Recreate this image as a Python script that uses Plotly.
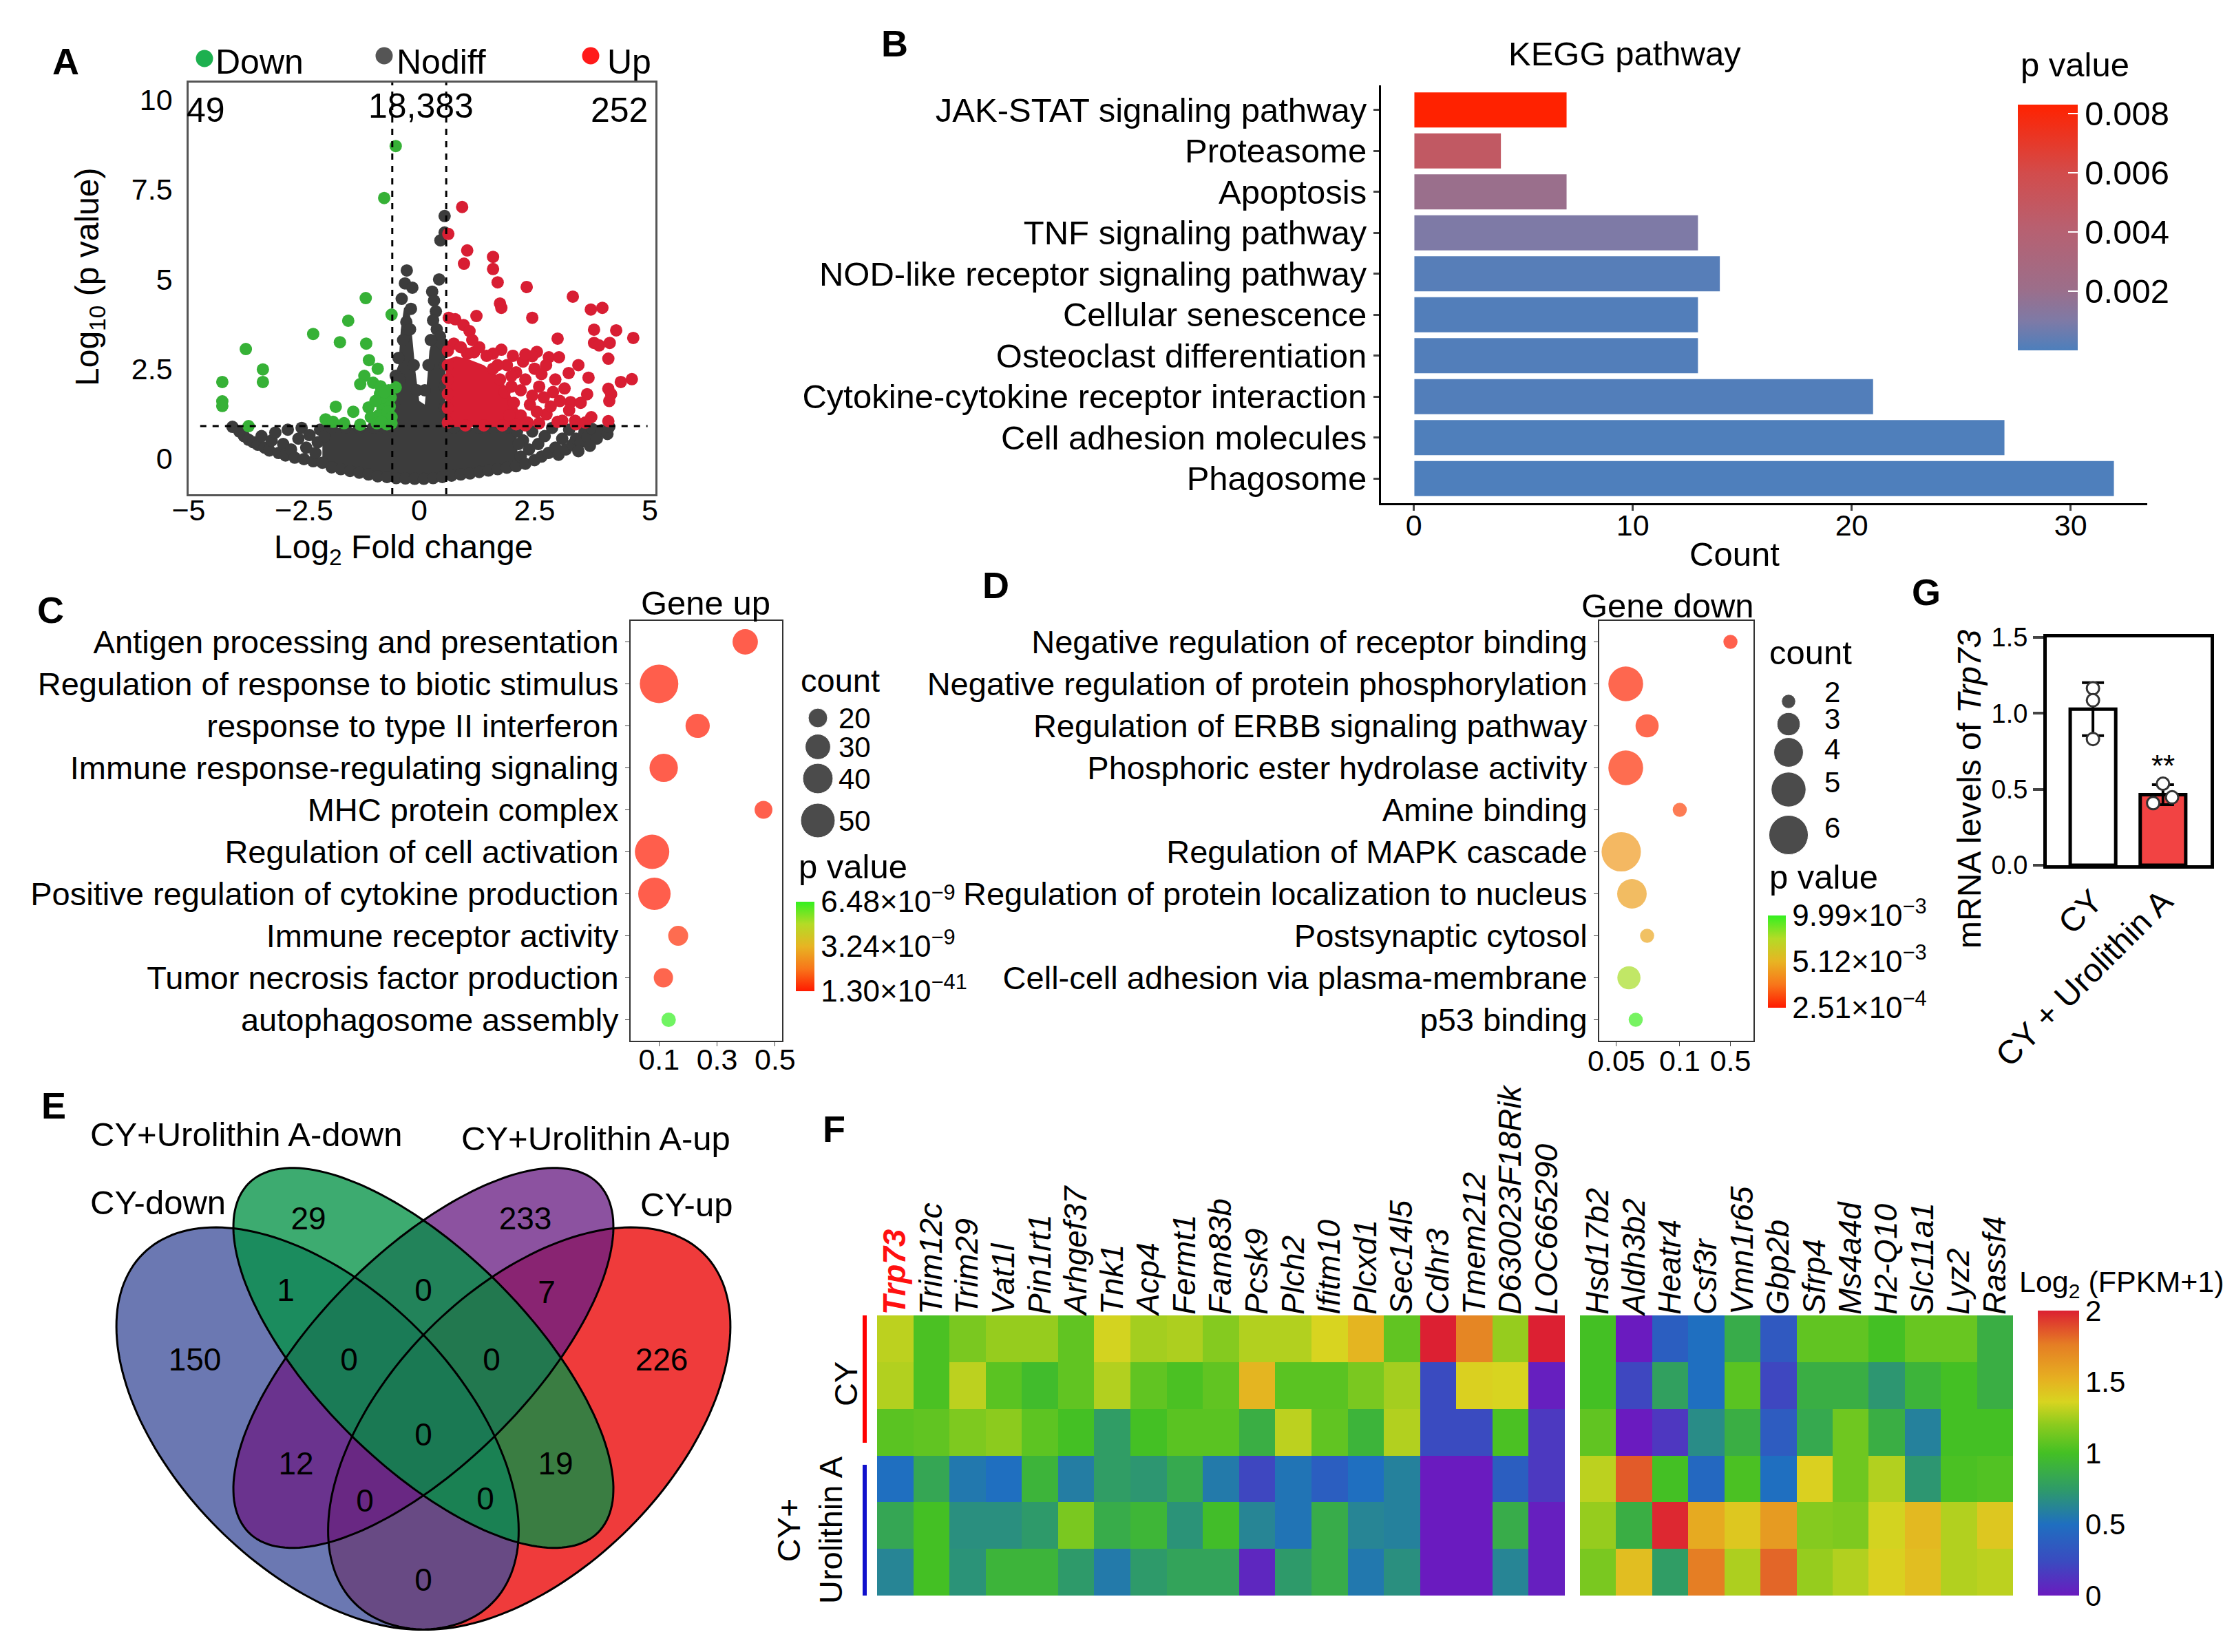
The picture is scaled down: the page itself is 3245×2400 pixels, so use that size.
import numpy as np
import plotly.graph_objects as go

W, H = 3245, 2400
FONT = "Liberation Sans, Arial, sans-serif"


def X(p):
    return p / W


def Y(p):
    return 1 - p / H


def dom_x(a, b):
    return [a / W, b / W]


def dom_y(top, bottom):
    return [1 - bottom / H, 1 - top / H]


# ======================= DATA =======================
# ---- A: volcano ----
volcano_labels = ["Down", "Nodiff", "Up"]
volcano_counts = [49, 18383, 252]
fc_cutoff = 0.585
logp_cutoff = 0.9

down_pts = [
    (-0.51, 8.71), (-0.76, 7.26), (-1.16, 4.47), (-0.60, 4.01), (-1.54, 3.84), (-2.30, 3.47), (-1.72, 3.24), (-1.15, 3.20),
    (-3.76, 3.05), (-3.39, 2.48), (-3.39, 2.13), (-4.27, 2.13), (-4.27, 1.59), (-4.27, 1.46), (-1.09, 2.74), (-0.90, 2.50),
    (-1.19, 2.30), (-1.28, 2.07), (-1.00, 2.11), (-0.84, 2.01), (-0.66, 1.90), (-0.51, 1.98), (-0.62, 1.70), (-0.70, 1.55),
    (-0.80, 1.40), (-0.66, 1.25), (-0.74, 1.10), (-0.60, 0.98), (-0.85, 1.80), (-0.72, 1.62), (-1.81, 1.44), (-1.43, 1.30),
    (-1.10, 1.42), (-2.03, 1.09), (-1.87, 1.02), (-1.63, 0.98), (-1.28, 0.94), (-3.70, 0.90), (-0.95, 1.60), (-0.78, 1.35),
    (-0.88, 1.20), (-0.64, 1.45), (-0.70, 0.95), (-1.05, 1.15), (-0.92, 0.98), (-0.68, 1.30), (-0.75, 1.85), (-0.60, 1.15),
    (-0.82, 1.02)]

up_pts = [
    (0.93, 7.01), (0.63, 6.26), (1.04, 5.80), (0.97, 5.43), (1.60, 5.62), (1.60, 5.28), (1.70, 4.91), (2.33, 4.78),
    (1.75, 4.32), (1.78, 4.20), (3.33, 4.51), (3.72, 4.15), (3.97, 4.20), (1.24, 3.97), (2.45, 3.92), (0.64, 3.92),
    (0.78, 3.88), (0.96, 3.72), (1.09, 3.55), (3.79, 3.59), (4.27, 3.57), (4.64, 3.36), (3.00, 3.34), (3.79, 3.22),
    (3.90, 3.15), (4.13, 3.22), (4.10, 2.78), (2.55, 2.97), (2.81, 2.82), (3.03, 2.82), (2.03, 2.86), (1.78, 3.03),
    (1.60, 2.92), (1.46, 2.86), (1.19, 2.96), (1.04, 2.92), (3.24, 2.38), (3.67, 2.25), (4.61, 2.21), (4.37, 2.13),
    (4.10, 1.94), (4.16, 1.79), (4.12, 1.60), (3.64, 1.79), (3.28, 1.57), (3.25, 1.34), (2.76, 1.23), (3.73, 1.15),
    (4.10, 1.04), (3.10, 1.05), (3.38, 1.05), (2.60, 0.98), (3.00, 1.02), (2.10, 2.40), (2.30, 2.20), (2.50, 2.50),
    (2.60, 2.00), (2.70, 1.70), (2.40, 1.50), (2.55, 1.30), (2.20, 1.90), (2.00, 2.30), (1.90, 2.60), (2.20, 1.20),
    (2.35, 1.00), (2.85, 1.45), (2.95, 2.20), (2.65, 2.35), (2.90, 1.85), (3.05, 1.60), (2.45, 1.75), (2.05, 1.55),
    (1.85, 1.85), (2.25, 2.70), (0.75, 3.20), (0.90, 3.10), (0.62, 3.00), (1.30, 3.10), (1.15, 3.30), (1.60, 2.50),
    (1.75, 2.20), (1.95, 1.20), (2.10, 0.95), (2.45, 2.85), (3.15, 1.95), (3.45, 2.60), (2.75, 2.60), (3.50, 1.55),
    (3.40, 0.95), (3.60, 1.00), (2.30, 2.90), (0.62, 2.60), (0.62, 2.20), (0.62, 1.80), (0.62, 1.40), (0.62, 1.00),
    (1.00, 0.92), (1.40, 0.92), (1.80, 0.92), (2.30, 0.92), (1.70, 2.60), (2.00, 2.00)]

up_core = [(0.58, 0.88), (0.58, 2.75), (0.80, 2.85), (1.10, 2.75), (1.40, 2.60), (1.65, 2.35), (1.85, 2.05),
           (2.00, 1.70), (2.15, 1.35), (2.30, 1.00), (2.35, 0.88)]

nodiff_core = [(-2.10, 0.85), (-0.58, 0.85), (-0.58, 2.20), (-0.45, 2.60), (-0.40, 3.60), (-0.33, 4.20), (-0.22, 4.30),
               (-0.15, 3.40), (-0.08, 2.40), (0.00, 1.60), (0.12, 1.50), (0.18, 2.30), (0.22, 3.00), (0.30, 3.40),
               (0.42, 3.60), (0.50, 3.30), (0.57, 3.10), (0.57, 0.85), (2.10, 0.85), (2.15, -0.23), (1.46, -0.35),
               (0.78, -0.46), (0.09, -0.56), (-0.60, -0.54), (-1.28, -0.38), (-1.95, -0.23), (-2.10, -0.15)]

nodiff_pts = [
    (-4.05, 0.88), (-3.90, 0.75), (-3.80, 0.62), (-3.70, 0.52), (-3.60, 0.45), (-3.50, 0.38), (-3.42, 0.62), (-3.35, 0.30),
    (-3.25, 0.22), (-3.20, 0.50), (-3.12, 0.72), (-3.05, 0.15), (-2.95, 0.40), (-2.90, 0.08), (-2.85, 0.80), (-2.78, 0.25),
    (-2.70, 0.02), (-2.62, 0.55), (-2.55, 0.85), (-2.50, -0.02), (-2.45, 0.30), (-2.38, 0.65), (-2.30, -0.08), (-2.25, 0.15),
    (-2.20, 0.45), (-2.15, 0.80), (-2.10, -0.12), (-2.05, 0.62),
    (-1.90, -0.25), (-1.70, -0.30), (-1.50, -0.35), (-1.30, -0.40), (-1.10, -0.45), (-0.90, -0.50), (-0.70, -0.52),
    (-0.50, -0.55), (-0.30, -0.56), (-0.10, -0.57), (0.10, -0.57), (0.30, -0.55), (0.50, -0.52), (0.70, -0.48),
    (0.90, -0.45), (1.10, -0.42), (1.30, -0.38), (1.50, -0.34), (1.70, -0.30), (1.90, -0.26), (2.10, -0.22),
    (2.20, 0.05), (2.25, 0.50), (2.30, -0.15), (2.38, 0.25), (2.45, 0.75), (2.50, -0.05), (2.58, 0.40), (2.65, 0.05),
    (2.72, 0.62), (2.80, 0.15), (2.88, 0.85), (2.95, 0.30), (3.02, 0.10), (3.10, 0.55), (3.18, 0.25), (3.25, 0.80),
    (3.32, 0.38), (3.40, 0.55), (3.50, 0.45), (3.58, 0.72), (3.65, 0.60), (3.75, 0.82), (3.85, 0.55), (3.95, 0.78),
    (4.08, 0.68), (4.12, 0.88), (3.70, 0.35), (3.45, 0.20), (2.15, 0.40), (2.12, 0.75),
    (-1.90, 0.85), (-1.60, 0.86), (-1.30, 0.85), (-1.00, 0.86), (-0.75, 0.85), (0.75, 0.86), (1.00, 0.85), (1.30, 0.86),
    (1.60, 0.85), (1.90, 0.86),
    (-0.27, 5.24), (-0.31, 4.88), (-0.15, 4.76), (-0.18, 4.17), (-0.28, 3.80), (-0.51, 2.30), (-0.38, 4.45), (-0.35, 3.30),
    (-0.45, 2.80), (-0.42, 2.20), (-0.20, 3.60), (-0.12, 2.60), (-0.05, 1.90), (0.55, 6.76), (0.55, 6.30), (0.46, 6.08),
    (0.43, 4.99), (0.28, 4.65), (0.32, 4.40), (0.36, 4.10), (0.30, 3.85), (0.38, 3.60), (0.45, 3.40), (0.25, 3.30),
    (0.50, 3.20), (0.20, 2.60), (0.12, 1.90), (0.55, 2.60), (0.55, 2.00), (0.55, 1.40), (-0.55, 1.50), (-0.55, 1.00)]

# ---- B: KEGG ----
kegg_terms = ["JAK-STAT signaling pathway", "Proteasome", "Apoptosis", "TNF signaling pathway",
              "NOD-like receptor signaling pathway", "Cellular senescence", "Osteoclast differentiation",
              "Cytokine-cytokine receptor interaction", "Cell adhesion molecules", "Phagosome"]
kegg_count = [7, 4, 7, 13, 14, 13, 13, 21, 27, 32]
kegg_p = [0.0083, 0.0048, 0.0020, 0.0010, 0.0002, 0.0001, 0.0001, 0.0001, 0.00005, 0.00002]
kegg_ticks = [0.002, 0.004, 0.006, 0.008]

# ---- C: GO up ----
go_up_terms = ["Antigen processing and presentation", "Regulation of response to biotic stimulus",
               "response to type II interferon", "Immune response-regulating signaling", "MHC protein complex",
               "Regulation of cell activation", "Positive regulation of cytokine production",
               "Immune receptor activity", "Tumor necrosis factor production", "autophagosome assembly"]
go_up_ratio = [0.397, 0.100, 0.233, 0.116, 0.460, 0.076, 0.084, 0.166, 0.115, 0.133]
go_up_count = [30, 61, 28, 36, 18, 50, 45, 21, 20, 14]
go_up_p = [1.2e-12, 1.3e-41, 2.5e-13, 3.0e-20, 4.1e-11, 5.6e-30, 8.2e-28, 3.3e-10, 2.0e-10, 6.48e-9]
go_up_legend_counts = [20, 30, 40, 50]
go_up_p_ticks = [1.30e-41, 3.24e-9, 6.48e-9]
go_up_p_ticktext = ["1.30×10<sup>−41</sup>", "3.24×10<sup>−9</sup>", "6.48×10<sup>−9</sup>"]

# ---- D: GO down ----
go_down_terms = ["Negative regulation of receptor binding", "Negative regulation of protein phosphorylation",
                 "Regulation of ERBB signaling pathway", "Phosphoric ester hydrolase activity", "Amine binding",
                 "Regulation of MAPK cascade", "Regulation of protein localization to nucleus",
                 "Postsynaptic cytosol", "Cell-cell adhesion via plasma-membrane", "p53 binding"]
go_down_ratio = [0.5, 0.054, 0.066, 0.054, 0.1, 0.052, 0.057, 0.066, 0.0555, 0.059]
go_down_count = [2, 5, 3, 5, 2, 6, 4, 2, 3, 2]
go_down_p = [3.0e-4, 6.0e-4, 6.5e-4, 8.0e-4, 1.4e-3, 4.1e-3, 4.3e-3, 4.6e-3, 7.8e-3, 9.8e-3]
go_down_ratio_ticks = [0.05, 0.1, 0.5]
go_down_legend_counts = [2, 3, 4, 5, 6]
go_down_p_ticks = [2.51e-4, 5.12e-3, 9.99e-3]
go_down_p_ticktext = ["2.51×10<sup>−4</sup>", "5.12×10<sup>−3</sup>", "9.99×10<sup>−3</sup>"]

# ---- E: Venn ----
venn_sets = ["CY-down", "CY+Urolithin A-down", "CY+Urolithin A-up", "CY-up"]
venn_counts = [29, 233, 1, 0, 7, 150, 0, 0, 226, 0, 12, 19, 0, 0, 0]

# ---- F: heatmap ----
genes_left = ["Trp73", "Trim12c", "Trim29", "Vat1l", "Pin1rt1", "Arhgef37", "Tnk1", "Acp4", "Fermt1", "Fam83b",
              "Pcsk9", "Plch2", "Ifitm10", "Plcxd1", "Sec14l5", "Cdhr3", "Tmem212", "D630023F18Rik", "LOC665290"]
genes_right = ["Hsd17b2", "Aldh3b2", "Heatr4", "Csf3r", "Vmn1r65", "Gbp2b", "Sfrp4", "Ms4a4d", "H2-Q10",
               "Slc11a1", "Lyz2", "Rassf4"]
samples = ["CY-1", "CY-2", "CY-3", "UA-1", "UA-2", "UA-3"]
expr_left = [
    [1.30, 1.02, 1.15, 1.22, 1.22, 1.08, 1.35, 1.25, 1.27, 1.18, 1.28, 1.28, 1.36, 1.50, 1.08, 2.00, 1.72, 1.22, 2.00],
    [1.28, 1.02, 1.30, 1.06, 0.97, 1.08, 1.28, 1.08, 1.02, 1.08, 1.50, 1.06, 1.06, 1.15, 1.25, 0.24, 1.38, 1.36, 0.02],
    [1.06, 1.08, 1.16, 1.20, 1.07, 1.00, 0.76, 1.00, 1.06, 1.06, 0.88, 1.30, 1.08, 0.92, 1.28, 0.24, 0.24, 1.02, 0.15],
    [0.50, 0.82, 0.55, 0.50, 0.92, 0.58, 0.76, 0.72, 0.84, 0.56, 0.22, 0.53, 0.38, 0.50, 0.60, 0.00, 0.00, 0.38, 0.15],
    [0.82, 1.00, 0.68, 0.68, 0.74, 1.15, 0.86, 0.93, 0.70, 0.98, 0.62, 0.53, 0.86, 0.62, 0.60, 0.00, 0.00, 0.86, 0.02],
    [0.62, 1.00, 0.70, 0.92, 0.92, 0.74, 0.56, 0.74, 0.80, 0.80, 0.06, 0.74, 0.86, 0.55, 0.68, 0.00, 0.00, 0.62, 0.02]]
expr_right = [
    [1.00, 0.00, 0.38, 0.50, 0.86, 0.34, 1.08, 1.08, 1.00, 1.10, 1.10, 0.88],
    [1.00, 0.22, 0.78, 0.50, 1.06, 0.22, 0.88, 0.88, 0.72, 0.92, 1.00, 0.88],
    [1.08, 0.00, 0.14, 0.66, 0.88, 0.36, 0.84, 1.12, 0.88, 0.60, 1.00, 1.00],
    [1.30, 1.85, 1.00, 0.45, 1.02, 0.50, 1.38, 1.12, 1.28, 0.72, 1.02, 1.04],
    [1.22, 0.88, 1.98, 1.55, 1.42, 1.62, 1.18, 1.16, 1.35, 1.48, 1.28, 1.42],
    [1.15, 1.46, 0.76, 1.76, 1.27, 1.82, 1.22, 1.28, 1.38, 1.46, 1.28, 1.30]]
heat_ticks = [0, 0.5, 1, 1.5, 2]

# ---- G: qPCR ----
qpcr_groups = ["CY", "CY + Urolithin A"]
qpcr_reps = [[1.165, 1.086, 0.831], [0.537, 0.409, 0.447]]
qpcr_sig = ["", "**"]

# ======================= STYLE / LAYOUT CONSTANTS =======================
GRAY, GREEN, RED = "#3C3C3C", "#36B136", "#D81E33"
dot_offsets = [[0, 0, 0], [0.0, -0.14, 0.13]]

kegg_scale = [[0, "#4D7FBC"], [0.12, "#7E7AA6"], [0.25, "#9C6E8A"], [0.5, "#B86070"], [0.72, "#D24C4C"],
              [1, "#FF2200"]]
go_scale = [[0, "#FF1A00"], [0.25, "#F8761A"], [0.5, "#E8B423"], [0.75, "#B4DB26"], [1, "#33F020"]]
heat_scale = [[0, "#6A1BBF"], [0.12, "#3A4BC0"], [0.25, "#1F6FC0"], [0.37, "#2E9A6A"], [0.5, "#44C024"],
              [0.6, "#8CCB1E"], [0.68, "#D8D420"], [0.76, "#E6B021"], [0.88, "#E57E24"], [1, "#DC2032"]]


def size_up(c):
    return np.sqrt(57.2 * np.asarray(c, float) - 360)


def size_down(c):
    return np.sqrt(710 * np.asarray(c, float) - 1000)


def recip(v):
    # reciprocal scale transform used by panel D's x axis
    return [-1.0 / t for t in v]


fig = go.Figure()

# ---------- A ----------
fig.add_trace(go.Scatter(x=[p[0] for p in nodiff_core], y=[p[1] for p in nodiff_core], mode="lines",
                         fill="toself", fillcolor=GRAY, line=dict(width=0), xaxis="x", yaxis="y", hoverinfo="skip"))
for pts, col in [(nodiff_pts, GRAY), (down_pts, GREEN)]:
    fig.add_trace(go.Scatter(x=[p[0] for p in pts], y=[p[1] for p in pts], mode="markers",
                             marker=dict(size=18, color=col, line=dict(width=0)), xaxis="x", yaxis="y"))
fig.add_trace(go.Scatter(x=[p[0] for p in up_core], y=[p[1] for p in up_core], mode="lines", fill="toself",
                         fillcolor=RED, line=dict(width=0), xaxis="x", yaxis="y", hoverinfo="skip"))
fig.add_trace(go.Scatter(x=[p[0] for p in up_pts], y=[p[1] for p in up_pts], mode="markers",
                         marker=dict(size=18, color=RED, line=dict(width=0)), xaxis="x", yaxis="y"))

# ---------- B ----------
fig.add_trace(go.Bar(x=kegg_count, y=kegg_terms, orientation="h", width=0.88,
                     marker=dict(color=kegg_p, coloraxis="coloraxis", line=dict(color="white", width=1.5)),
                     xaxis="x2", yaxis="y2"))

# ---------- C ----------
fig.add_trace(go.Scatter(x=go_up_ratio, y=go_up_terms, mode="markers",
                         marker=dict(size=size_up(go_up_count), sizemode="diameter", color=go_up_p,
                                     coloraxis="coloraxis2", line=dict(width=0)),
                         xaxis="x3", yaxis="y3"))
# ---------- D ----------
fig.add_trace(go.Scatter(x=recip(go_down_ratio), y=go_down_terms, mode="markers",
                         marker=dict(size=size_down(go_down_count), sizemode="diameter", color=go_down_p,
                                     coloraxis="coloraxis3", line=dict(width=0)),
                         xaxis="x4", yaxis="y4"))

# ---------- G ----------
means = [float(np.mean(r)) for r in qpcr_reps]
sds = [float(np.std(r, ddof=1)) for r in qpcr_reps]
fig.add_trace(go.Bar(x=[0, 1], y=means, width=0.65, marker=dict(color=["white", "#F24343"],
                     line=dict(color="black", width=5)),
                     error_y=dict(type="data", array=sds, visible=True, thickness=4, width=16, color="black"),
                     xaxis="x5", yaxis="y5"))
for gi, reps in enumerate(qpcr_reps):
    fig.add_trace(go.Scatter(x=[gi + o for o in dot_offsets[gi]], y=reps, mode="markers",
                             marker=dict(size=18, color="white", line=dict(color="#333333", width=3)),
                             xaxis="x5", yaxis="y5"))

# ---------- F ----------
fig.add_trace(go.Heatmap(z=expr_left, x=genes_left, y=list(range(len(samples))), coloraxis="coloraxis4",
                         xaxis="x6", yaxis="y6"))
fig.add_trace(go.Heatmap(z=expr_right, x=genes_right, y=list(range(len(samples))), coloraxis="coloraxis4",
                         xaxis="x7", yaxis="y7"))

# ---------- overlay (pixel coordinates) ----------
venn_pos = [(440, 1766), (755, 1766), (407, 1870), (607, 1870), (786, 1873), (275, 1971), (499, 1971),
            (706, 1971), (953, 1971), (607, 2080), (422, 2122), (799, 2122), (522, 2176), (697, 2173), (607, 2291)]
fig.add_trace(go.Scatter(x=[p[0] for p in venn_pos], y=[p[1] for p in venn_pos], mode="text",
                         text=[str(c) for c in venn_counts],
                         textfont=dict(size=46, family=FONT, color="black"), xaxis="x8", yaxis="y8"))
fig.add_trace(go.Scatter(x=[289, 550, 850], y=[77, 73, 73], mode="markers",
                         marker=dict(size=25, color=["#1DB04F", "#555555", "#FF1A1A"]), xaxis="x8", yaxis="y8"))
fig.add_trace(go.Scatter(x=[1180] * 4, y=[1035, 1077, 1123, 1184], mode="markers",
                         marker=dict(size=size_up(go_up_legend_counts), sizemode="diameter", color="black"),
                         xaxis="x8", yaxis="y8"))
fig.add_trace(go.Scatter(x=[2590] * 5, y=[1011, 1044, 1085, 1139, 1205], mode="markers",
                         marker=dict(size=size_down(go_down_legend_counts), sizemode="diameter", color="black"),
                         xaxis="x8", yaxis="y8"))


# ======================= AXES =======================
def tf(size, **kw):
    d = dict(size=size, family=FONT, color="black")
    d.update(kw)
    return d


base = dict(showgrid=False, zeroline=False, automargin=False)
layout_axes = dict(
    xaxis=dict(base, domain=dom_x(266, 944), range=[-5, 5.12], anchor="y", tickvals=[-5, -2.5, 0, 2.5, 5],
               showline=True, mirror=True, linecolor="#555", linewidth=2.5, ticks="", ticklabelstandoff=-16,
               tickfont=tf(43)),
    yaxis=dict(base, domain=dom_y(112, 710), range=[-1, 10.48], anchor="x", tickvals=[0, 2.5, 5, 7.5, 10],
               showline=True, mirror=True, linecolor="#555", linewidth=2.5, ticks="", ticklabelstandoff=12,
               tickfont=tf(43)),
    xaxis2=dict(base, domain=dom_x(1998, 3111), range=[-1.5, 33.5], anchor="y2", tickvals=[0, 10, 20, 30],
                ticks="outside", ticklen=8, tickwidth=3, showline=True, linecolor="black", linewidth=3,
                ticklabelstandoff=-16, tickfont=tf(43)),
    yaxis2=dict(base, domain=dom_y(116, 723), anchor="x2", type="category", categoryorder="array",
                categoryarray=kegg_terms[::-1], range=[-0.6, 9.6], tickmode="array", tickvals=kegg_terms,
                ticktext=kegg_terms, ticks="outside", ticklen=8, tickwidth=3,
                showline=True, linecolor="black", linewidth=3, tickfont=tf(49)),
    xaxis3=dict(base, domain=dom_x(908, 1128), range=[0.002, 0.524], anchor="y3", tickvals=[0.1, 0.3, 0.5],
                tickangle=0, ticks="outside", ticklen=6, showline=True, mirror=True, linecolor="#333",
                linewidth=2, ticklabelstandoff=-18, tickfont=tf(43)),
    yaxis3=dict(base, domain=dom_y(894, 1504), anchor="x3", type="category", categoryorder="array",
                categoryarray=go_up_terms[::-1], range=[-0.5, 9.5], tickmode="array", tickvals=go_up_terms,
                ticktext=go_up_terms, ticks="outside", ticklen=6,
                showline=True, mirror=True, linecolor="#333", linewidth=2, tickfont=tf(47)),
    xaxis4=dict(base, domain=dom_x(2315, 2539), range=[-22.7, 1.63], anchor="y4",
                tickvals=recip(go_down_ratio_ticks), ticktext=["%g" % t for t in go_down_ratio_ticks],
                tickangle=0, ticks="outside", ticklen=6, showline=True, mirror=True, linecolor="#333",
                linewidth=2, ticklabelstandoff=-16, tickfont=tf(43)),
    yaxis4=dict(base, domain=dom_y(894, 1504), anchor="x4", type="category", categoryorder="array",
                categoryarray=go_down_terms[::-1], range=[-0.5, 9.5], tickmode="array", tickvals=go_down_terms,
                ticktext=go_down_terms, ticks="outside", ticklen=6,
                showline=True, mirror=True, linecolor="#333", linewidth=2, tickfont=tf(47)),
    xaxis5=dict(base, domain=dom_x(2965, 3203), range=[-0.66, 1.68], anchor="y5", tickvals=[0, 1],
                ticktext=qpcr_groups, tickangle=-45, ticks="", showline=True, mirror=True, linecolor="black",
                linewidth=5, tickfont=tf(48)),
    yaxis5=dict(base, domain=dom_y(918, 1249), range=[0, 1.5], anchor="x5", tickvals=[0, 0.5, 1, 1.5],
                ticktext=["0.0", "0.5", "1.0", "1.5"], ticks="outside", ticklen=15, tickwidth=4,
                showline=True, mirror=True, linecolor="black", linewidth=5, tickfont=tf(38)),
    xaxis6=dict(base, domain=dom_x(1266, 2265), anchor="y6", side="top", tickangle=-90, ticks="",
                tickmode="array", tickvals=genes_left,
                ticktext=["<b><span style='color:#FF1010'>%s</span></b>" % g if g == "Trp73" else g
                          for g in genes_left],
                tickfont=tf(46, style="italic"), showline=False),
    yaxis6=dict(base, domain=dom_y(1903, 2310), anchor="x6", range=[5.5, -0.5], showticklabels=False,
                showline=False, ticks=""),
    xaxis7=dict(base, domain=dom_x(2287, 2916), anchor="y7", side="top", tickangle=-90, ticks="",
                tickmode="array", tickvals=genes_right, ticktext=genes_right, tickfont=tf(46, style="italic"),
                showline=False),
    yaxis7=dict(base, domain=dom_y(1903, 2310), anchor="x7", range=[5.5, -0.5], showticklabels=False,
                showline=False, ticks=""),
    xaxis8=dict(base, domain=[0, 1], range=[0, W], anchor="y8", visible=False),
    yaxis8=dict(base, domain=[0, 1], range=[H, 0], anchor="x8", visible=False),
)

# ======================= COLOR AXES =======================
coloraxes = dict(
    coloraxis=dict(colorscale=kegg_scale, cmin=0, cmax=0.0083,
                   colorbar=dict(x=X(2923), xanchor="left", y=Y(144), yanchor="top", len=(501 - 144) / H,
                                 lenmode="fraction", thickness=87, xpad=0, ypad=0, outlinewidth=0,
                                 tickvals=kegg_ticks, ticktext=["%.3f" % t for t in kegg_ticks],
                                 ticks="inside", ticklen=14, tickwidth=2, tickcolor="white", tickfont=tf(49))),
    coloraxis2=dict(colorscale=go_scale, cmin=0, cmax=6.48e-9,
                    colorbar=dict(x=X(1148), xanchor="left", y=Y(1302), yanchor="top", len=130 / H,
                                  lenmode="fraction", thickness=27, xpad=0, ypad=0, outlinewidth=0,
                                  tickvals=go_up_p_ticks, ticktext=go_up_p_ticktext, tickfont=tf(44))),
    coloraxis3=dict(colorscale=go_scale, cmin=2.51e-4, cmax=9.99e-3,
                    colorbar=dict(x=X(2560), xanchor="left", y=Y(1322), yanchor="top", len=134 / H,
                                  lenmode="fraction", thickness=26, xpad=0, ypad=0, outlinewidth=0,
                                  tickvals=go_down_p_ticks, ticktext=go_down_p_ticktext, tickfont=tf(44))),
    coloraxis4=dict(colorscale=heat_scale, cmin=0, cmax=2,
                    colorbar=dict(x=X(2952), xanchor="left", y=Y(1896), yanchor="top", len=414 / H,
                                  lenmode="fraction", thickness=60, xpad=0, ypad=0, outlinewidth=0,
                                  tickvals=heat_ticks, ticktext=["%g" % t for t in heat_ticks],
                                  tickfont=tf(42))),
)

# ======================= SHAPES =======================
shapes = []
for xv in (-fc_cutoff, fc_cutoff):
    shapes.append(dict(type="line", xref="x", yref="y", x0=xv, x1=xv, y0=-1, y1=10.48,
                       line=dict(color="black", width=3, dash="dash")))
shapes.append(dict(type="line", xref="x", yref="y", x0=-4.75, x1=4.95, y0=logp_cutoff, y1=logp_cutoff,
                   line=dict(color="black", width=3, dash="dash")))


def ellipse_path(cx, cy, a, b, ang):
    t = np.linspace(0, 2 * np.pi, 181)
    th = np.deg2rad(ang)
    xs = cx + a * np.cos(t) * np.cos(th) - b * np.sin(t) * np.sin(th)
    ys = cy + a * np.cos(t) * np.sin(th) + b * np.sin(t) * np.cos(th)
    return "M " + " L ".join("%.1f,%.1f" % (x, y) for x, y in zip(xs, ys)) + " Z"


S, X0, Y0 = 1025.0, 607.0, 2549.0
ell = {
    "CY-down": (0.35, 0.47, 0.35, 0.20, 45, "#3E509B"),
    "CY+Urolithin A-down": (0.50, 0.57, 0.35, 0.15, 45, "#029245"),
    "CY+Urolithin A-up": (0.50, 0.57, 0.35, 0.15, -45, "#6A1E84"),
    "CY-up": (0.65, 0.47, 0.35, 0.20, -45, "#EA0000"),
}
paths = {}
for k, (ux, uy, a, b, r, c) in ell.items():
    paths[k] = ellipse_path(X0 + (ux - 0.5) * S, Y0 - uy * S, a * S, b * S, r)
for k in ["CY-up", "CY-down", "CY+Urolithin A-up", "CY+Urolithin A-down"]:
    shapes.append(dict(type="path", xref="x8", yref="y8", path=paths[k], fillcolor=ell[k][5], opacity=0.77,
                       line=dict(width=0), layer="below"))
for k in venn_sets:
    shapes.append(dict(type="path", xref="x8", yref="y8", path=paths[k], fillcolor="rgba(0,0,0,0)",
                       line=dict(color="black", width=3), layer="below"))
shapes.append(dict(type="line", xref="paper", yref="paper", x0=X(1248), x1=X(1248), y0=Y(1903), y1=Y(2088),
                   line=dict(color="#FF0000", width=6)))
shapes.append(dict(type="line", xref="paper", yref="paper", x0=X(1248), x1=X(1248), y0=Y(2120), y1=Y(2310),
                   line=dict(color="#1010CC", width=6)))

# ======================= ANNOTATIONS =======================
anns = []


def ann(text, x, y, size, xanchor="center", yanchor="middle", angle=0, **fk):
    anns.append(dict(text=text, x=X(x), y=Y(y), xref="paper", yref="paper", showarrow=False,
                     xanchor=xanchor, yanchor=yanchor, textangle=angle, font=tf(size, **fk)))


for L, (x, y) in zip("ABCDEFG", [(87, 81), (1291, 55), (65, 878), (1438, 842), (70, 1598), (1203, 1632),
                                 (2790, 852)]):
    ann("<b>%s</b>" % L, x, y, 54)

for lab, x in zip(volcano_labels, [303, 566, 872]):
    ann(lab, x, 82, 50, xanchor="left")
for n, x, y in zip(volcano_counts, [291, 603, 891], [152, 146, 152]):
    ann(f"{n:,}", x, y, 50)
ann("Log<sub>2</sub> Fold change", 578, 790, 48)
ann("Log<sub>10</sub> (p value)", 122, 394, 48, angle=-90)

ann("KEGG pathway", 2352, 70, 49)
ann("Count", 2511, 797, 49)
ann("p value", 2925, 86, 49, xanchor="left")

ann("Gene up", 1017, 868, 49)
ann("count", 1153, 981, 47, xanchor="left")
for c, y in zip(go_up_legend_counts, [1035, 1077, 1123, 1184]):
    ann(str(c), 1208, y, 42, xanchor="left")
ann("p value", 1150, 1251, 49, xanchor="left")

ann("Gene down", 2414, 872, 49)
ann("count", 2560, 940, 49, xanchor="left")
for c, y in zip(go_down_legend_counts, [997, 1036, 1080, 1128, 1194]):
    ann(str(c), 2640, y, 42, xanchor="left")
ann("p value", 2560, 1266, 49, xanchor="left")

ann("mRNA levels of <i>Trp73</i>", 2852, 1138, 48, angle=-90)
for gi, s in enumerate(qpcr_sig):
    if s:
        anns.append(dict(text=s, x=gi, y=max(qpcr_reps[gi]) + 0.12, xref="x5", yref="y5", showarrow=False,
                         font=tf(44)))

ann(venn_sets[1], 121, 1640, 49, xanchor="left")
ann(venn_sets[2], 660, 1646, 49, xanchor="left")
ann(venn_sets[0], 121, 1739, 49, xanchor="left")
ann(venn_sets[3], 920, 1742, 49, xanchor="left")

ann("CY", 1220, 2003, 47, angle=-90)
ann("CY+<br>Urolithin A", 1168, 2215, 47, angle=-90)
ann("Log<sub>2</sub> (FPKM+1)", 2923, 1857, 43, xanchor="left")

fig.update_layout(
    width=W, height=H, autosize=False, margin=dict(l=0, r=0, t=0, b=0, pad=0, autoexpand=False),
    paper_bgcolor="white", plot_bgcolor="rgba(0,0,0,0)", showlegend=False,
    font=dict(family=FONT, color="black"),
    shapes=shapes, annotations=anns, **layout_axes, **coloraxes,
)

fig.write_html("out.html")
